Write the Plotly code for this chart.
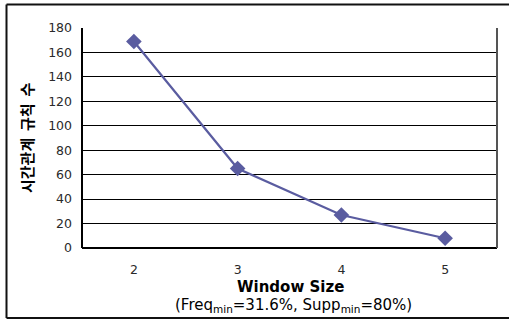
import plotly.graph_objects as go

# Rule counts per window size
window_sizes = ["2", "3", "4", "5"]
rule_counts = [169, 65, 27, 8]
y_ticks = [0, 20, 40, 60, 80, 100, 120, 140, 160, 180]

W, H = 509, 322
L, R, T, B = 82, 12, 28, 74
pw, ph = W - L - R, H - T - B


def px(x):
    return (x - L) / pw


def py(y):
    return (H - B - y) / ph


fig = go.Figure()
fig.add_trace(go.Scatter(
    x=window_sizes, y=rule_counts, mode="lines+markers",
    line=dict(color="#5A5CA0", width=2.2),
    marker=dict(symbol="diamond", size=12, color="#5A5CA0"),
    showlegend=False, cliponaxis=False,
))

tick_font = dict(family="DejaVu Sans", size=12.5, color="#2a2a2a")

fig.update_layout(
    width=W, height=H,
    margin=dict(l=L, r=R, t=T, b=B),
    paper_bgcolor="white", plot_bgcolor="white",
    xaxis=dict(
        type="category", range=[-0.5, 3.5],
        showgrid=False, zeroline=False, showline=False,
        ticks="", tickfont=tick_font, ticklabelstandoff=12,
    ),
    yaxis=dict(
        range=[0, 180], tickvals=y_ticks,
        showgrid=True, gridcolor="black", gridwidth=1,
        zeroline=False, showline=False, ticks="",
        tickfont=tick_font, ticklabelstandoff=9,
    ),
    shapes=[
        # outer frame
        dict(type="line", xref="paper", yref="paper", x0=px(6.5), x1=px(515), y0=py(4.5), y1=py(4.5),
             line=dict(color="#111111", width=2)),
        dict(type="line", xref="paper", yref="paper", x0=px(6.5), x1=px(6.5), y0=py(4.5), y1=py(318),
             line=dict(color="#111111", width=2)),
        dict(type="line", xref="paper", yref="paper", x0=px(6.5), x1=px(515), y0=py(318), y1=py(318),
             line=dict(color="#111111", width=2)),
        # plot area edges
        dict(type="line", xref="paper", yref="paper", x0=0, x1=0, y0=0, y1=1,
             line=dict(color="black", width=2), layer="above"),
        dict(type="line", xref="paper", yref="paper", x0=0, x1=1, y0=0, y1=0,
             line=dict(color="black", width=2), layer="above"),
        dict(type="line", xref="paper", yref="paper", x0=1, x1=1, y0=0, y1=1,
             line=dict(color="#555555", width=2), layer="above"),
    ],
    annotations=[
        dict(text="<b>Window Size</b>", xref="paper", yref="paper",
             x=px(290), y=py(287), xanchor="center", yanchor="middle", showarrow=False,
             font=dict(family="DejaVu Sans", size=15, color="black")),
        dict(text="(Freq<sub>min</sub>=31.6%, Supp<sub>min</sub>=80%)", xref="paper", yref="paper",
             x=px(293), y=py(305), xanchor="center", yanchor="middle", showarrow=False,
             font=dict(family="DejaVu Sans", size=15, color="black")),
        dict(text="<b>시간관계  규칙  수</b>", xref="paper", yref="paper",
             x=px(26), y=py(138), xanchor="center", yanchor="middle", showarrow=False,
             textangle=-90,
             font=dict(family="Noto Sans CJK KR", size=15, color="black")),
    ],
)

fig.write_html("out.html")
